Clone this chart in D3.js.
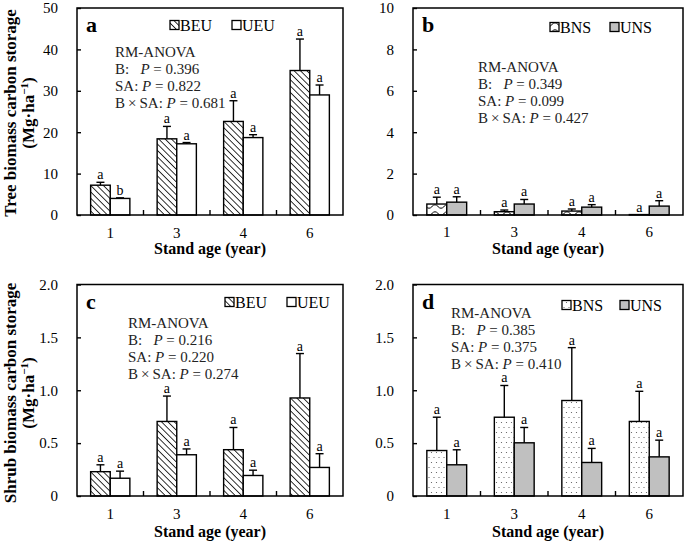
<!DOCTYPE html>
<html>
<head>
<meta charset="utf-8">
<script src="https://cdn.jsdelivr.net/npm/d3@7"></script>
<style>
  body { margin: 0; background: #fff; }
  svg { font-family: "Liberation Serif", "Times New Roman", serif; }
</style>
</head>
<body>
<svg id="chart" width="685" height="541"></svg>
<script>
const ages = ['1', '3', '4', '6'];

// tree biomass (Mg/ha)
const treeBEU = [7.2, 18.4, 22.6, 34.9];
const treeBEUErr = [0.7, 3.0, 5.0, 7.6];
const treeUEU = [4.0, 17.2, 18.7, 29.0];
const treeUEUErr = [0.15, 0.3, 0.7, 2.4];
const treeBNS = [0.53, 0.16, 0.19, 0.02];
const treeBNSErr = [0.33, 0.08, 0.1, 0];
const treeUNS = [0.62, 0.53, 0.38, 0.43];
const treeUNSErr = [0.26, 0.22, 0.12, 0.26];

// shrub biomass (Mg/ha)
const shrubBEU = [0.23, 0.705, 0.438, 0.927];
const shrubBEUErr = [0.065, 0.24, 0.21, 0.42];
const shrubUEU = [0.168, 0.39, 0.194, 0.27];
const shrubUEUErr = [0.067, 0.055, 0.05, 0.13];
const shrubBNS = [0.43, 0.745, 0.903, 0.705];
const shrubBNSErr = [0.315, 0.3, 0.5, 0.285];
const shrubUNS = [0.295, 0.503, 0.317, 0.37];
const shrubUNSErr = [0.142, 0.145, 0.133, 0.158];

const lettersA = ['a', 'a', 'a', 'a'];
const lettersUEUtree = ['b', 'a', 'a', 'a'];

const statsA = ['0.396', '0.822', '0.681'];
const statsB = ['0.349', '0.099', '0.427'];
const statsC = ['0.216', '0.220', '0.274'];
const statsD = ['0.385', '0.375', '0.410'];

const svg = d3.select('#chart');
const defs = svg.append('defs');

// hatch \\\
const hatch = defs.append('pattern').attr('id', 'hatch')
  .attr('patternUnits', 'userSpaceOnUse').attr('width', 4.5).attr('height', 4.5)
  .attr('patternTransform', 'rotate(-45)');
hatch.append('rect').attr('width', 4.5).attr('height', 4.5).attr('fill', '#fff');
hatch.append('line').attr('x1', 0).attr('y1', 0).attr('x2', 0).attr('y2', 4.5)
  .attr('stroke', '#000').attr('stroke-width', 1.6);

// wavy
const wave = defs.append('pattern').attr('id', 'wave')
  .attr('patternUnits', 'userSpaceOnUse').attr('width', 12).attr('height', 7);
wave.append('rect').attr('width', 12).attr('height', 7).attr('fill', '#fff');
wave.append('path').attr('d', 'M0,3.5 Q3,0 6,3.5 T12,3.5')
  .attr('fill', 'none').attr('stroke', '#000').attr('stroke-width', 1);

// dots
const dots = defs.append('pattern').attr('id', 'dots')
  .attr('patternUnits', 'userSpaceOnUse').attr('width', 5).attr('height', 10);
dots.append('rect').attr('width', 5).attr('height', 10).attr('fill', '#fff');
dots.append('circle').attr('cx', 1.5).attr('cy', 2.5).attr('r', 0.6).attr('fill', '#555');
dots.append('circle').attr('cx', 4).attr('cy', 7.5).attr('r', 0.6).attr('fill', '#555');

const panels = [
  { id: 'a', x0: 77, x1: 343, y0: 8, y1: 215, max: 50, step: 10,
    series: [[treeBEU, treeBEUErr, 'url(#hatch)', lettersA], [treeUEU, treeUEUErr, '#fff', lettersUEUtree]],
    names: ['BEU', 'UEU'], legX: 170, legY: 25, leg2: 232, stats: statsA, stX: 115, stY: 52,
    tickY: 238, titleY: 254, ytitle: 'Tree biomass carbon storage', ytY: 113 },
  { id: 'b', x0: 413, x1: 683, y0: 8, y1: 215, max: 10, step: 2,
    series: [[treeBNS, treeBNSErr, 'url(#wave)', lettersA], [treeUNS, treeUNSErr, '#c0c0c0', lettersA]],
    names: ['BNS', 'UNS'], legX: 550, legY: 27, leg2: 610, stats: statsB, stX: 478, stY: 67,
    tickY: 237, titleY: 254 },
  { id: 'c', x0: 77, x1: 343, y0: 284.5, y1: 496, max: 2, step: 0.5,
    series: [[shrubBEU, shrubBEUErr, 'url(#hatch)', lettersA], [shrubUEU, shrubUEUErr, '#fff', lettersA]],
    names: ['BEU', 'UEU'], legX: 225, legY: 302, leg2: 287, stats: statsC, stX: 128, stY: 323,
    tickY: 519, titleY: 537, ytitle: 'Shrub biomass carbon storage', ytY: 393 },
  { id: 'd', x0: 413, x1: 683, y0: 284.5, y1: 496, max: 2, step: 0.5,
    series: [[shrubBNS, shrubBNSErr, 'url(#dots)', lettersA], [shrubUNS, shrubUNSErr, '#c0c0c0', lettersA]],
    names: ['BNS', 'UNS'], legX: 562, legY: 305, leg2: 620, stats: statsD, stX: 451, stY: 313,
    tickY: 519, titleY: 537 }
];

panels.forEach(p => {
  const g = svg.append('g');
  const x = d3.scaleBand().domain(ages).range([p.x0, p.x1]);
  const xs = d3.scaleBand().domain([0, 1]).range([0.205 * x.bandwidth(), 0.795 * x.bandwidth()]);
  const y = d3.scaleLinear().domain([0, p.max]).range([p.y1, p.y0]);
  const fmt = p.step < 1 ? (d => d === 0 ? '0' : d3.format('.1f')(d)) : d3.format('d');

  // bars
  p.series.forEach((s, si) => {
    const [vals, errs, fill, letters] = s;
    const gs = g.append('g');
    ages.forEach((a, i) => {
      const bx = x(a) + xs(si);
      const bw = xs.bandwidth();
      gs.append('rect').attr('x', bx).attr('y', y(vals[i]))
        .attr('width', bw).attr('height', y(0) - y(vals[i]))
        .attr('fill', fill).attr('stroke', '#000').attr('stroke-width', 1.4);
      const cx = bx + bw / 2;
      const top = y(vals[i] + errs[i]);
      if (errs[i] > 0) {
        gs.append('line').attr('x1', cx).attr('x2', cx).attr('y1', y(vals[i])).attr('y2', top)
          .attr('stroke', '#000').attr('stroke-width', 1.4);
        gs.append('line').attr('x1', cx - 4).attr('x2', cx + 4).attr('y1', top).attr('y2', top)
          .attr('stroke', '#000').attr('stroke-width', 1.4);
      }
      gs.append('text').attr('x', cx).attr('y', top - 3).attr('text-anchor', 'middle')
        .attr('font-size', 14).text(letters[i]);
    });
  });

  // frame
  g.append('rect').attr('x', p.x0).attr('y', p.y0).attr('width', p.x1 - p.x0).attr('height', p.y1 - p.y0)
    .attr('fill', 'none').attr('stroke', '#000').attr('stroke-width', 1.5);

  // y axis, ticks inside
  const ya = g.append('g').attr('transform', `translate(${p.x0},0)`)
    .call(d3.axisLeft(y).tickValues(d3.range(0, p.max + p.step / 2, p.step))
      .tickSizeInner(-4).tickSizeOuter(0).tickPadding(19).tickFormat(fmt));
  ya.select('.domain').remove();
  ya.selectAll('line').attr('stroke-width', 1.4);
  ya.selectAll('text').attr('font-size', 15).attr('font-family', '"Liberation Serif", serif').attr('fill', '#000');

  // x inner ticks between groups
  ages.slice(1).forEach(a => {
    g.append('line').attr('x1', x(a)).attr('x2', x(a)).attr('y1', p.y1).attr('y2', p.y1 - 5)
      .attr('stroke', '#000').attr('stroke-width', 1.4);
  });
  ages.forEach(a => {
    g.append('text').attr('x', x(a) + x.bandwidth() / 2).attr('y', p.tickY)
      .attr('text-anchor', 'middle').attr('font-size', 15).text(a);
  });
  g.append('text').attr('x', (p.x0 + p.x1) / 2).attr('y', p.titleY)
    .attr('text-anchor', 'middle').attr('font-size', 16).attr('font-weight', 'bold')
    .text('Stand age (year)');

  // panel letter
  g.append('text').attr('x', p.x0 + 9).attr('y', p.y0 + 24).attr('font-size', 22)
    .attr('font-weight', 'bold').text(p.id);

  // legend
  [[p.legX, p.series[0][2], p.names[0]], [p.leg2, p.series[1][2], p.names[1]]].forEach(([lx, f, n]) => {
    g.append('rect').attr('x', lx).attr('y', p.legY - 4.5).attr('width', 9).attr('height', 9)
      .attr('fill', f).attr('stroke', '#000').attr('stroke-width', 1.3);
    g.append('text').attr('x', lx + 10).attr('y', p.legY + 6).attr('font-size', 16).text(n);
  });

  // stats text, one text element with a line per tspan
  const st = g.append('text').attr('font-size', 15).attr('fill', '#222');
  st.append('tspan').attr('x', p.stX).attr('y', p.stY + 5).text('RM-ANOVA');
  const labs = ['B:\u00a0\u00a0\u00a0', 'SA: ', 'B\u2009\u00d7\u2009SA: '];
  labs.forEach((l, i) => {
    const ly = p.stY + 5 + 17 * (i + 1);
    st.append('tspan').attr('x', p.stX).attr('y', ly).text(l);
    st.append('tspan').attr('font-style', 'italic').text('P');
    st.append('tspan').text(' = ' + p.stats[i]);
  });

  // y title
  if (p.ytitle) {
    const yt = g.append('g').attr('transform', `translate(10,${p.ytY}) rotate(-90)`);
    yt.append('text').attr('text-anchor', 'middle').attr('dy', '0.35em')
      .attr('font-size', 17).attr('font-weight', 'bold').text(p.ytitle);
    const t2 = yt.append('text').attr('text-anchor', 'middle').attr('y', 18).attr('dy', '0.35em')
      .attr('font-size', 17).attr('font-weight', 'bold');
    t2.append('tspan').text('(Mg\u00b7ha');
    t2.append('tspan').attr('font-size', 11).attr('dy', '-0.5em').text('\u22121');
    t2.append('tspan').attr('dy', '0.3em').text(')');
  }
});
</script>
</body>
</html>
